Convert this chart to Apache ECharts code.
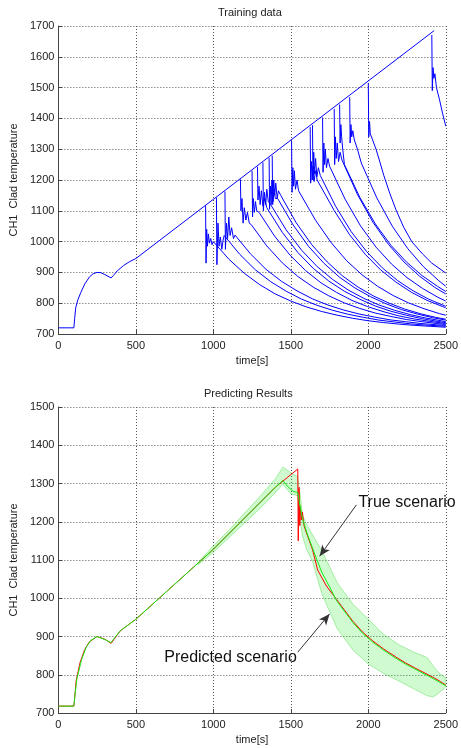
<!DOCTYPE html>
<html>
<head>
<meta charset="utf-8">
<script src="https://cdn.jsdelivr.net/npm/echarts@6/dist/echarts.min.js"></script>
<style>
  html, body { margin: 0; padding: 0; background: #fff; }
  #chart { width: 461px; height: 748px; }
</style>
</head>
<body>
<div id="chart"></div>
<script>
// axis ticks
const xTicks = [0, 500, 1000, 1500, 2000, 2500];
const yTicksTop = [700, 800, 900, 1000, 1100, 1200, 1300, 1400, 1500, 1600, 1700];
const yTicksBottom = [700, 800, 900, 1000, 1100, 1200, 1300, 1400, 1500];

// training data: main heat-up ramp, then one branch per transient
const ramp = [[0,720],[100,720],[105,750],[112,785],[125,810],[145,835],[170,862],[200,885],[225,896],[250,900],[275,899],[300,893],[340,882],[355,890],[380,905],[420,922],[460,935],[500,945],[2425,1685]];
const b0950 = [[950,1116],[953,930],[957,1040],[962,985],[968,1025],[975,995],[983,1010],[992,990],[1000,1000],[1100,943],[1200,897],[1300,860],[1400,830],[1500,807],[1600,788],[1700,773],[1800,761],[1900,751],[2000,743],[2100,737],[2200,732],[2300,728],[2400,725],[2500,722]];
const b1020 = [[1020,1143],[1023,925],[1030,1060],[1037,985],[1045,1015],[1055,975],[1063,1005],[1070,1020],[1170,959],[1270,909],[1370,870],[1470,839],[1570,813],[1670,793],[1770,777],[1870,764],[1970,754],[2070,745],[2170,739],[2270,733],[2370,729],[2470,726],[2500,725]];
const b1075 = [[1075,1163],[1078,975],[1085,1060],[1092,1010],[1100,1080],[1108,1020],[1118,1045],[1130,1010],[1140,1021],[1240,960],[1340,910],[1440,871],[1540,840],[1640,814],[1740,794],[1840,778],[1940,765],[2040,755],[2140,746],[2240,740],[2340,734],[2440,730],[2500,728]];
const b1175 = [[1175,1202],[1178,1100],[1185,1140],[1192,1060],[1200,1110],[1210,1070],[1220,1095],[1232,1060],[1245,1055],[1345,986],[1445,931],[1545,887],[1645,852],[1745,824],[1845,801],[1945,783],[2045,768],[2145,757],[2245,747],[2345,740],[2445,734],[2500,731]];
const b1250 = [[1250,1230],[1253,1080],[1258,1140],[1265,1095],[1272,1130],[1280,1100],[1295,1095],[1395,1018],[1495,956],[1595,906],[1695,866],[1795,835],[1895,809],[1995,789],[2095,773],[2195,759],[2295,749],[2395,741],[2500,734]];
const b1285 = [[1285,1243],[1288,1135],[1295,1180],[1302,1120],[1310,1165],[1320,1115],[1330,1140],[1345,1110],[1445,1030],[1545,965],[1645,913],[1745,872],[1845,839],[1945,813],[2045,791],[2145,774],[2245,761],[2345,750],[2445,741],[2500,737]];
const b1320 = [[1320,1257],[1323,1100],[1330,1160],[1338,1120],[1345,1170],[1355,1130],[1370,1120],[1470,1038],[1570,972],[1670,919],[1770,877],[1870,843],[1970,816],[2070,794],[2170,777],[2270,763],[2370,752],[2470,743],[2500,740]];
const b1360 = [[1360,1272],[1363,1105],[1368,1180],[1373,1120],[1378,1200],[1385,1130],[1392,1170],[1400,1140],[1415,1140],[1515,1054],[1615,984],[1715,929],[1815,884],[1915,849],[2015,821],[2115,798],[2215,779],[2315,765],[2415,753],[2500,745]];
const b1380 = [[1380,1279],[1383,1120],[1390,1200],[1396,1150],[1403,1190],[1412,1140],[1420,1165],[1435,1150],[1535,1061],[1635,990],[1735,934],[1835,888],[1935,852],[2035,823],[2135,800],[2235,781],[2335,766],[2435,754],[2500,748]];
const b1505 = [[1505,1327],[1508,1160],[1513,1240],[1518,1180],[1523,1230],[1530,1170],[1540,1200],[1550,1165],[1560,1160],[1660,1069],[1760,997],[1860,938],[1960,892],[2060,855],[2160,825],[2260,801],[2360,782],[2460,766],[2500,761]];
const b1625 = [[1625,1372],[1628,1190],[1633,1260],[1638,1200],[1643,1245],[1650,1195],[1660,1230],[1670,1200],[1680,1200],[1780,1101],[1880,1022],[1980,959],[2080,908],[2180,868],[2280,835],[2380,809],[2480,789],[2500,785]];
const b1640 = [[1640,1378],[1643,1200],[1648,1290],[1653,1220],[1660,1270],[1668,1210],[1678,1240],[1690,1215],[1790,1114],[1890,1032],[1990,967],[2090,915],[2190,873],[2290,840],[2390,813],[2490,792],[2500,790]];
const b1705 = [[1705,1403],[1708,1225],[1713,1320],[1718,1250],[1723,1300],[1730,1240],[1740,1270],[1750,1245],[1850,1138],[1950,1051],[2050,982],[2150,927],[2250,883],[2350,848],[2450,819],[2500,807]];
const b1780 = [[1780,1431],[1783,1250],[1788,1340],[1793,1270],[1800,1320],[1808,1260],[1818,1290],[1830,1265],[1930,1153],[2030,1063],[2130,991],[2230,934],[2330,888],[2430,851],[2500,830]];
const b1815 = [[1815,1445],[1818,1320],[1823,1380],[1828,1340],[1835,1300],[1846,1250],[1946,1143],[2046,1057],[2146,988],[2246,934],[2346,890],[2446,855],[2500,838]];
const b1880 = [[1880,1469],[1883,1320],[1888,1380],[1893,1340],[1900,1360],[1910,1330],[1930,1300],[1955,1255],[2055,1142],[2155,1050],[2255,977],[2355,919],[2455,873],[2500,855]];
const b2000 = [[2000,1515],[2003,1340],[2008,1390],[2013,1350],[2020,1345],[2050,1300],[2071,1265],[2100,1215],[2140,1155],[2179,1103],[2230,1045],[2282,999],[2350,960],[2410,930],[2500,898]];
const b2410 = [[2410,1671],[2413,1490],[2418,1565],[2423,1530],[2430,1545],[2440,1500],[2460,1460],[2480,1415],[2500,1375]];

// predicting results
const trueScenario = [[0,718],[100,718],[103,728],[115,785],[140,832],[170,866],[200,886],[250,900],[300,893],[340,882],[360,893],[400,915],[500,945],[1000,1128],[1400,1290],[1545,1338],[1548,1150],[1553,1290],[1558,1190],[1562,1240],[1568,1205],[1575,1225],[1585,1190],[1600,1172],[1641,1126],[1673,1074],[1730,1032],[1795,997],[1850,967],[1900,940],[1962,912],[2030,888],[2100,867],[2179,846],[2240,831],[2300,818],[2391,799],[2450,786],[2500,773]];
const predictedScenario = [[0,718],[100,718],[105,740],[120,790],[150,840],[180,872],[210,890],[250,900],[300,892],[340,884],[360,895],[400,915],[500,945],[1000,1128],[1400,1290],[1449,1308],[1480,1292],[1513,1280],[1545,1276],[1558,1245],[1577,1205],[1609,1165],[1654,1116],[1700,1068],[1750,1030],[1795,994],[1850,964],[1900,937],[1962,909],[2030,885],[2100,864],[2179,843],[2240,828],[2300,815],[2391,796],[2450,783],[2500,771]];
const bandX     = [900, 1000, 1100, 1200, 1300, 1400, 1449, 1500, 1545, 1560, 1577, 1600, 1641, 1700, 1800, 1900, 2000, 2100, 2200, 2300, 2380, 2420, 2455, 2500];
const bandUpper = [1093, 1137, 1178, 1222, 1266, 1312, 1343, 1328, 1318, 1272, 1215, 1195, 1165, 1125, 1040, 985, 945, 905, 878, 858, 845, 822, 805, 792];
const bandLower = [1087, 1120, 1158, 1196, 1234, 1276, 1298, 1273, 1268, 1200, 1160, 1130, 1095, 1012, 920, 865, 828, 803, 783, 762, 745, 742, 752, 768];

const trainingSeries = [ramp, b0950, b1020, b1075, b1175, b1250, b1285, b1320, b1360, b1380, b1505, b1625, b1640, b1705, b1780, b1815, b1880, b2000, b2410];

const FONT = 'Liberation Sans, Arial, sans-serif';

function xAxisFor(idx) {
  return {
    type: 'value', gridIndex: idx,
    min: xTicks[0], max: xTicks[xTicks.length - 1], interval: xTicks[1] - xTicks[0],
    name: 'time[s]', nameLocation: 'middle', nameGap: 21,
    nameTextStyle: { fontSize: 11, color: '#222', fontFamily: FONT },
    axisLine: { show: true, onZero: false, lineStyle: { color: '#444', width: 1 } },
    axisTick: { inside: true, length: 4, lineStyle: { color: '#444' } },
    axisLabel: { fontSize: 11, color: '#222', fontFamily: FONT, margin: 6, formatter: function (v) { return String(v); } },
    splitLine: { show: true, lineStyle: { color: '#555', type: [1, 2], width: 1 } }
  };
}

function yAxisFor(idx, ticks) {
  return {
    type: 'value', gridIndex: idx,
    min: ticks[0], max: ticks[ticks.length - 1], interval: ticks[1] - ticks[0],
    name: 'CH1  Clad temperature', nameLocation: 'middle', nameGap: 34,
    nameTextStyle: { fontSize: 11, color: '#222', fontFamily: FONT },
    axisLine: { show: true, onZero: false, lineStyle: { color: '#444', width: 1 } },
    axisTick: { inside: true, length: 4, lineStyle: { color: '#444' } },
    axisLabel: { fontSize: 11, color: '#222', fontFamily: FONT, margin: 4, formatter: function (v) { return String(v); } },
    splitLine: { show: true, lineStyle: { color: '#555', type: [1, 2], width: 1 } }
  };
}

const series = trainingSeries.map(function (d) {
  return {
    type: 'line', xAxisIndex: 0, yAxisIndex: 0, data: d,
    symbol: 'none',
    lineStyle: { color: '#0000ff', width: 1 }
  };
});

// uncertainty band of the prediction
series.push({
  type: 'custom', xAxisIndex: 1, yAxisIndex: 1,
  data: [[bandX[0], bandLower[0]]],
  renderItem: function (params, api) {
    const pts = [];
    for (let i = 0; i < bandX.length; i++) pts.push(api.coord([bandX[i], bandUpper[i]]));
    for (let i = bandX.length - 1; i >= 0; i--) pts.push(api.coord([bandX[i], bandLower[i]]));
    return {
      type: 'polygon',
      shape: { points: pts },
      style: { fill: 'rgba(40,230,40,0.22)', stroke: 'rgba(40,210,40,0.35)', lineWidth: 1 }
    };
  }
});

series.push({
  type: 'line', xAxisIndex: 1, yAxisIndex: 1, data: trueScenario,
  symbol: 'none', lineStyle: { color: '#ff0000', width: 1 }
});

series.push({
  type: 'line', xAxisIndex: 1, yAxisIndex: 1, data: predictedScenario,
  symbol: 'none',
  lineStyle: { color: '#11f011', width: 1 },
  markLine: {
    silent: true, symbol: ['none', 'arrow'], symbolSize: [7, 11],
    lineStyle: { color: '#333', type: 'solid', width: 1 },
    label: { show: false },
    data: [
      [{ coord: [1923, 1244] }, { coord: [1686, 1110] }],
      [{ coord: [1545, 859] }, { coord: [1750, 959] }]
    ]
  },
  markPoint: {
    silent: true, symbol: 'circle', symbolSize: 0,
    label: { show: true, fontSize: 16, color: '#111', fontFamily: FONT, distance: 1 },
    data: [
      { coord: [1930, 1249], label: { position: 'right', formatter: 'True scenario' } },
      { coord: [1545, 844], label: { position: 'left', formatter: 'Predicted scenario' } }
    ]
  }
});

const chart = echarts.init(document.getElementById('chart'));
chart.setOption({
  animation: false,
  backgroundColor: '#fff',
  title: [
    { text: 'Training data', left: 218, top: 7, padding: 0,
      textStyle: { fontSize: 11, fontWeight: 'normal', color: '#222', fontFamily: FONT } },
    { text: 'Predicting Results', left: 204, top: 388, padding: 0,
      textStyle: { fontSize: 11, fontWeight: 'normal', color: '#222', fontFamily: FONT } }
  ],
  grid: [
    { left: 57, right: 14, top: 26, height: 308 },
    { left: 57, right: 14, top: 407, height: 306 }
  ],
  xAxis: [xAxisFor(0), xAxisFor(1)],
  yAxis: [yAxisFor(0, yTicksTop), yAxisFor(1, yTicksBottom)],
  series: series
});
</script>
</body>
</html>
